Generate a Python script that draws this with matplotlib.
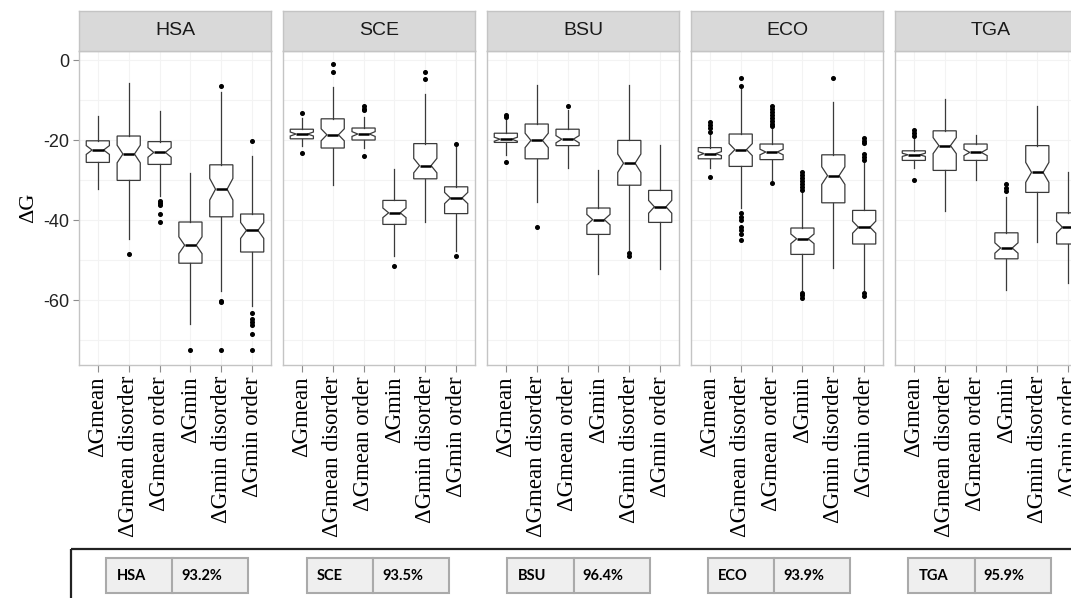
import matplotlib
matplotlib.use("Agg")
import matplotlib.pyplot as plt
from matplotlib.patches import Rectangle

# data
species = ["HSA", "SCE", "BSU", "ECO", "TGA"]
identity = ["93.2%", "93.5%", "96.4%", "93.9%", "95.9%"]
categories = ["\u0394Gmean", "\u0394Gmean disorder", "\u0394Gmean order",
              "\u0394Gmin", "\u0394Gmin disorder", "\u0394Gmin order"]

whis_hi = [[-14.0, -5.8, -12.7, -28.3, -8.0, -24.1],
           [-14.5, -6.7, -14.3, -27.3, -8.5, -21.8],
           [-15.0, -6.2, -12.5, -27.4, -6.2, -21.2],
           [-18.3, -7.1, -17.0, -32.8, -10.6, -25.4],
           [-19.5, -9.8, -18.7, -34.2, -11.5, -28.1]]
q3 = [[-20.2, -19.0, -20.4, -40.5, -26.2, -38.5],
      [-17.3, -14.7, -17.0, -35.1, -20.9, -31.7],
      [-18.3, -16.0, -17.3, -37.0, -20.1, -32.6],
      [-21.9, -18.5, -21.0, -42.0, -23.7, -37.6],
      [-22.7, -17.7, -21.0, -43.2, -21.4, -38.2]]
median = [[-22.5, -23.5, -23.1, -46.3, -32.3, -42.6],
          [-18.5, -18.7, -18.5, -38.2, -26.4, -34.5],
          [-19.8, -20.1, -19.8, -39.9, -25.8, -36.7],
          [-23.4, -22.4, -23.0, -44.7, -28.9, -41.8],
          [-23.7, -21.4, -23.1, -47.0, -28.1, -41.8]]
q1 = [[-25.6, -30.1, -26.1, -50.8, -39.2, -48.0],
      [-19.7, -22.0, -20.0, -41.1, -29.7, -38.4],
      [-20.6, -24.7, -21.4, -43.6, -31.3, -40.6],
      [-24.7, -26.6, -24.9, -48.6, -35.7, -46.0],
      [-25.1, -27.6, -25.1, -49.7, -33.1, -46.0]]
whis_lo = [[-32.3, -44.8, -34.1, -66.0, -57.7, -61.5],
           [-21.6, -31.2, -22.0, -49.0, -40.5, -47.8],
           [-23.7, -35.5, -26.9, -53.4, -47.6, -52.2],
           [-27.0, -37.0, -30.0, -57.8, -51.9, -57.8],
           [-27.0, -37.7, -30.0, -57.4, -45.6, -55.8]]
notch = [[1.1, 2.2, 1.2, 2.1, 2.7, 2.0],
         [0.5, 1.5, 0.6, 1.2, 1.8, 1.4],
         [0.5, 1.8, 0.9, 1.3, 2.3, 1.6],
         [0.5, 1.5, 0.7, 1.2, 2.2, 1.5],
         [0.4, 2.0, 0.8, 1.3, 2.5, 1.5]]
outliers = [
    [[], [-48.6], [-35.2, -35.8, -36.3, -38.6, -40.5], [-72.4],
     [-6.6, -60.2, -60.6, -72.4], [-20.2, -63.2, -64.8, -65.5, -66.2, -68.5, -72.5]],
    [[-13.3, -23.3], [-1.1, -3.1], [-11.6, -12.2, -12.6, -24.1], [-51.4],
     [-2.9, -4.8], [-20.9, -49.0]],
    [[-13.7, -14.2, -25.6], [-41.8], [-11.4], [], [-48.2, -49.0], []],
    [[-15.4, -16.3, -17.0, -17.9, -29.3],
     [-4.4, -6.5, -38.3, -39.2, -40.0, -41.8, -42.6, -43.5, -44.9],
     [-11.6, -12.3, -13.0, -13.8, -14.5, -15.2, -15.9, -16.6, -30.8],
     [-28.1, -28.8, -29.5, -30.3, -31.0, -31.8, -32.4, -58.2, -58.8, -59.4],
     [-4.4],
     [-19.5, -20.2, -20.8, -23.4, -24.2, -24.9, -58.2, -59.0]],
    [[-17.6, -18.3, -19.1, -29.9], [], [], [-31.0, -32.0, -32.8], [], []],
]
y_ticks = [0, -20, -40, -60]

W, H = 1071, 598
fig = plt.figure(figsize=(W / 100, H / 100), dpi=100)


def px_box(x0, y0, x1, y1):
    """pixel rectangle (top-left origin) -> figure fraction"""
    return [x0 / W, 1 - y1 / H, (x1 - x0) / W, (y1 - y0) / H]


panel_x0, panel_w, panel_step = 79.3, 191.4, 204.0
grid_col = "#f3f3f3"
border_col = "#c4c4c4"

for p, name in enumerate(species):
    x0 = panel_x0 + p * panel_step
    ax = fig.add_axes(px_box(x0, 50.7, x0 + panel_w, 365))

    stats = []
    for b in range(len(categories)):
        stats.append(dict(med=median[p][b], q1=q1[p][b], q3=q3[p][b],
                          whislo=whis_lo[p][b], whishi=whis_hi[p][b],
                          cilo=median[p][b] - notch[p][b],
                          cihi=median[p][b] + notch[p][b],
                          fliers=outliers[p][b]))
    ax.bxp(stats, positions=range(1, 7), widths=0.75, shownotches=True,
           showcaps=False, patch_artist=True,
           boxprops=dict(facecolor="white", edgecolor="#3a3a3a", linewidth=0.9),
           medianprops=dict(color="black", linewidth=1.8),
           whiskerprops=dict(color="#3a3a3a", linewidth=0.9),
           flierprops=dict(marker="o", markerfacecolor="black",
                           markeredgecolor="black", markersize=2.6))

    ax.set_xlim(0.4, 6.6)
    ax.set_ylim(-76.25, 2.33)
    ax.set_yticks(y_ticks)
    ax.set_yticks([-10, -30, -50, -70], minor=True)
    ax.grid(True, which="both", color=grid_col, linewidth=0.8)
    ax.set_axisbelow(True)
    ax.set_xticks(range(1, 7))
    ax.set_xticklabels(categories, rotation=90, family="Liberation Serif",
                       fontsize=16.5)
    ax.tick_params(axis="x", length=5, color="#8c8c8c", pad=3)
    ax.tick_params(axis="y", which="minor", length=0)
    if p == 0:
        ax.set_yticklabels([str(v) for v in y_ticks], family="Liberation Sans",
                           fontsize=13, color="#222222")
        ax.tick_params(axis="y", length=4, color="#8c8c8c", pad=3)
        ax.set_ylabel("\u0394G", family="Liberation Serif", fontsize=16,
                      labelpad=4)
    else:
        ax.tick_params(axis="y", length=0, labelleft=False)
    for s in ax.spines.values():
        s.set_color(border_col)
        s.set_linewidth(1.0)

    # facet strip
    st = fig.add_axes(px_box(x0, 10.7, x0 + panel_w, 50.7))
    st.set_facecolor("#d9d9d9")
    st.set_xticks([])
    st.set_yticks([])
    for s in st.spines.values():
        s.set_color(border_col)
        s.set_linewidth(1.0)
    st.text(0.5, 0.5, name, ha="center", va="center", fontsize=14,
            family="Liberation Sans", color="#1a1a1a", transform=st.transAxes)

# bottom legend with the identity tables
lay = fig.add_axes([0, 0, 1, 1], zorder=5)
lay.set_xlim(0, W)
lay.set_ylim(H, 0)
lay.axis("off")
lay.add_patch(Rectangle((71, 549), 1100, 100, fill=False, edgecolor="#222222",
                        linewidth=1.6))

tab_x0, tab_step, tab_w1, tab_w2 = 106, 200.5, 66.5, 76.0
for i, (name, pct) in enumerate(zip(species, identity)):
    x0 = tab_x0 + i * tab_step
    tb = lay.table(cellText=[[name, pct]], cellLoc="left",
                   colWidths=[tab_w1, tab_w2],
                   bbox=[x0 / W, 1 - 593.3 / H, (tab_w1 + tab_w2) / W, 35 / H])
    tb.auto_set_font_size(False)
    for (r, c), cell in tb.get_celld().items():
        cell.set_facecolor("#efefef")
        cell.set_edgecolor("#aaaaaa")
        cell.set_linewidth(1.5)
        cell.PAD = 0.16 if c == 0 else 0.12
        cell.get_text().set_fontsize(10.5)
        cell.get_text().set_family("Lato")
        cell.get_text().set_fontweight("bold")

fig.savefig("out.png", dpi=100)
